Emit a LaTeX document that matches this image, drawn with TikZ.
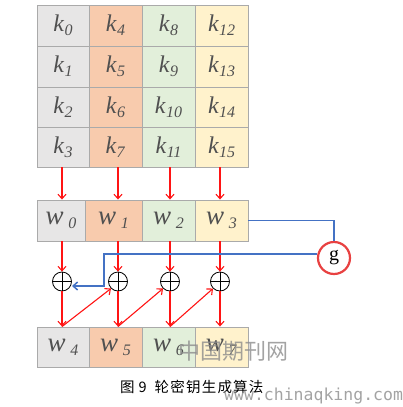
\documentclass[tikz,border=0pt]{standalone}
\usepackage{fontspec}
\setmainfont{Liberation Serif}
\newfontfamily\cjk{Noto Sans CJK SC}
\newfontfamily\wmono{DejaVu Sans Mono}
\usetikzlibrary{arrows.meta}
\definecolor{cgray}{RGB}{231,230,230}
\definecolor{corange}{RGB}{248,203,173}
\definecolor{cgreen}{RGB}{226,239,218}
\definecolor{cyellow}{RGB}{255,242,204}
\definecolor{cborder}{RGB}{170,170,170}
\definecolor{ctext}{RGB}{80,80,80}
\definecolor{cblue}{RGB}{68,114,196}
\definecolor{cred}{RGB}{255,20,20}
\definecolor{gred}{RGB}{232,65,65}
\definecolor{wmark}{RGB}{140,140,140}
\newcommand{\kk}[1]{\textit{k}\raisebox{-4pt}{\fontsize{16}{16}\selectfont\textit{#1}}}
\newcommand{\ww}[1]{\textit{w}\,\raisebox{-4pt}{\fontsize{16}{16}\selectfont\textit{#1}}}
\begin{document}
\begin{tikzpicture}[x=1pt,y=-1pt,
  cell/.style={draw=cborder, line width=0.9pt, inner sep=0pt, text=ctext,
    font=\fontsize{24}{24}\selectfont},
  wcell/.style={cell, font=\fontsize{27}{27}\selectfont},
  xorn/.style={circle, draw=black, line width=0.8pt, minimum size=19pt, inner sep=0pt,
    path picture={\draw[line width=0.8pt] (path picture bounding box.north) -- (path picture bounding box.south)
      (path picture bounding box.west) -- (path picture bounding box.east);}},
  redarrow/.style={draw=cred, line width=1.1pt, -{Straight Barb[length=4.5pt,width=8pt]}},
  bluel/.style={draw=cblue, line width=1.5pt},
  gnode/.style={circle, draw=gred, line width=2.2pt, minimum size=32pt, inner sep=0pt,
    font=\fontsize{20}{20}\selectfont}
]
\useasboundingbox (0,0) rectangle (402,407);

% key grid
\foreach \c/\xa/\xb/\col in {0/37/89/cgray,1/89/142/corange,2/142/195/cgreen,3/195/248/cyellow}{
  \foreach \r/\ya/\yb in {0/5/46,1/46/87,2/87/127,3/127/167}{
    \pgfmathtruncatemacro\idx{4*\c+\r}
    \node[cell, fill=\col, minimum width={(\xb-\xa)*1pt}, minimum height={(\yb-\ya)*1pt}]
      (k\idx) at ({(\xa+\xb)/2},{(\ya+\yb)/2}) {\kk{\idx}};
  }
}

% w0..w3
\foreach \i/\xa/\xb/\col in {0/37/85/cgray,1/85/142/corange,2/142/195/cgreen,3/195/248/cyellow}{
  \node[wcell, fill=\col, minimum width={(\xb-\xa)*1pt}, minimum height=41pt]
    (w\i) at ({(\xa+\xb)/2},220.5) {\ww{\i}};
}
% w4..w7
\foreach \i/\xa/\xb/\col in {4/37/89/cgray,5/89/142/corange,6/142/195/cgreen,7/195/248/cyellow}{
  \node[wcell, fill=\col, minimum width={(\xb-\xa)*1pt}, minimum height=40pt]
    (w\i) at ({(\xa+\xb)/2},347) {\ww{\i}};
}

% xor nodes
\node[xorn] (x1) at (62,281.5) {};
\node[xorn] (x2) at (118,281.5) {};
\node[xorn] (x3) at (170,281.5) {};
\node[xorn] (x4) at (220,281.5) {};

% g node
\node[gnode] (g) at (334,258) {g};

% arrows key grid -> w
\draw[redarrow] (k3.south -| x1) -- (w0.north -| x1);
\draw[redarrow] (k7.south -| x2) -- (w1.north -| x2);
\draw[redarrow] (k11.south -| x3) -- (w2.north -| x3);
\draw[redarrow] (k15.south -| x4) -- (w3.north -| x4);

% w -> xor
\draw[redarrow] (w0.south -| x1) -- (x1.north);
\draw[redarrow] (w1.south -| x2) -- (x2.north);
\draw[redarrow] (w2.south -| x3) -- (x3.north);
\draw[redarrow] (w3.south -| x4) -- (x4.north);

% xor -> w4..w7
\draw[redarrow] (x1.south) -- (w4.north -| x1);
\draw[redarrow] (x2.south) -- (w5.north -| x2);
\draw[redarrow] (x3.south) -- (w6.north -| x3);
\draw[redarrow] (x4.south) -- (w7.north -| x4);

% diagonal feeds
\draw[redarrow] (w4.north -| x1) -- (x2.south west);
\draw[redarrow] (w5.north -| x2) -- (x3.south west);
\draw[redarrow] (w6.north -| x3) -- (x4.south west);

% blue path through g
\draw[bluel] (w3.east) -- (w3.east -| g) -- (g.north);
\coordinate (bend) at (104,254);
\draw[bluel, -{Straight Barb[length=4.5pt,width=8pt]}]
  (g.west |- bend) -- (bend) -- (104,286) -- (72,286);

% caption
\node[font=\cjk\fontsize{14.5}{14.5}\selectfont, anchor=west, inner sep=0pt] (cap) at (120,387)
  {图\hspace{4pt}9\hspace{8pt}轮\hspace{1.2pt}密\hspace{1.2pt}钥\hspace{1.2pt}生\hspace{1.2pt}成\hspace{1.2pt}算\hspace{1.2pt}法};

% watermark
\node[font=\cjk\fontsize{22}{22}\selectfont, text=wmark, opacity=0.8, anchor=west, inner sep=0pt] (wm1) at (178,351) {中国期刊网};
\node[font=\wmono\fontsize{16.5}{16.5}\selectfont, text=wmark, opacity=0.8, anchor=west, inner sep=0pt] (wm2) at (224,396) {www.chinaqking.com};
\end{tikzpicture}
\end{document}
